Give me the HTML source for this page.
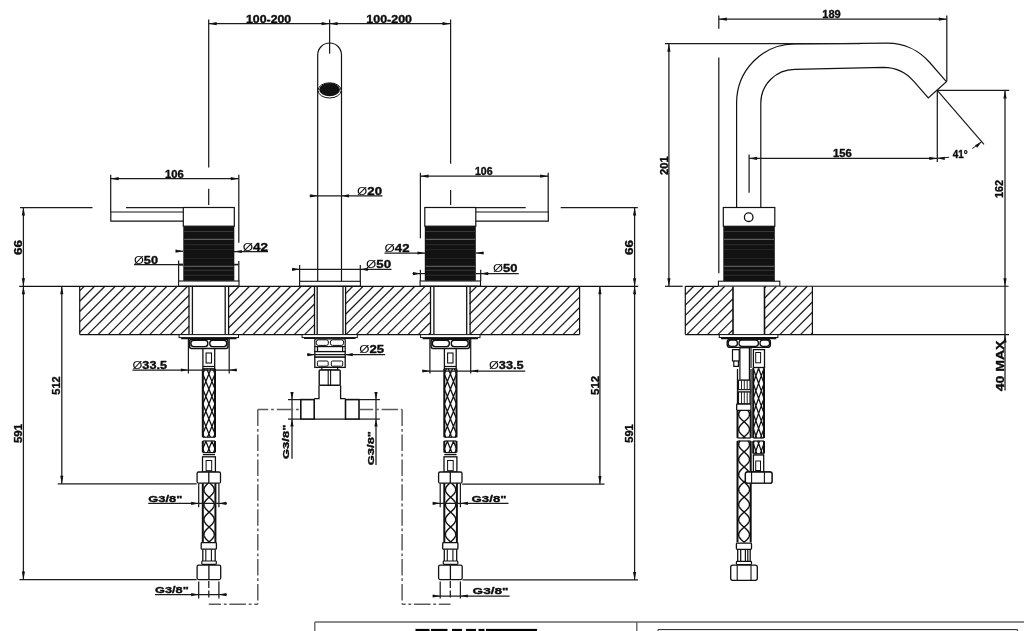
<!DOCTYPE html>
<html><head><meta charset="utf-8"><title>Technical drawing</title>
<style>
html,body{margin:0;padding:0;background:#fff;}
body{width:1024px;height:631px;overflow:hidden;}
svg{display:block;filter:grayscale(100%);}
text{font-family:"Liberation Sans",sans-serif;fill:#0c0c0c;stroke:#0c0c0c;stroke-width:0.35px;stroke-linejoin:round;}
</style></head><body>
<svg width="1024" height="631" viewBox="0 0 1024 631">
<rect x="0" y="0" width="1024" height="631" fill="#fff"/>
<line x1="84.30" y1="286.30" x2="79.70" y2="290.90" stroke="#1c1c1c" stroke-width="1.25" />
<line x1="94.63" y1="286.30" x2="79.70" y2="301.23" stroke="#1c1c1c" stroke-width="1.25" />
<line x1="104.96" y1="286.30" x2="79.70" y2="311.56" stroke="#1c1c1c" stroke-width="1.25" />
<line x1="115.29" y1="286.30" x2="79.70" y2="321.89" stroke="#1c1c1c" stroke-width="1.25" />
<line x1="125.62" y1="286.30" x2="79.70" y2="332.22" stroke="#1c1c1c" stroke-width="1.25" />
<line x1="135.95" y1="286.30" x2="87.65" y2="334.60" stroke="#1c1c1c" stroke-width="1.25" />
<line x1="146.28" y1="286.30" x2="97.98" y2="334.60" stroke="#1c1c1c" stroke-width="1.25" />
<line x1="156.61" y1="286.30" x2="108.31" y2="334.60" stroke="#1c1c1c" stroke-width="1.25" />
<line x1="166.94" y1="286.30" x2="118.64" y2="334.60" stroke="#1c1c1c" stroke-width="1.25" />
<line x1="177.27" y1="286.30" x2="128.97" y2="334.60" stroke="#1c1c1c" stroke-width="1.25" />
<line x1="187.60" y1="286.30" x2="139.30" y2="334.60" stroke="#1c1c1c" stroke-width="1.25" />
<line x1="149.63" y1="334.60" x2="189.00" y2="295.23" stroke="#1c1c1c" stroke-width="1.25" />
<line x1="159.96" y1="334.60" x2="189.00" y2="305.56" stroke="#1c1c1c" stroke-width="1.25" />
<line x1="170.29" y1="334.60" x2="189.00" y2="315.89" stroke="#1c1c1c" stroke-width="1.25" />
<line x1="180.62" y1="334.60" x2="189.00" y2="326.22" stroke="#1c1c1c" stroke-width="1.25" />
<line x1="228.92" y1="286.30" x2="228.50" y2="286.72" stroke="#1c1c1c" stroke-width="1.25" />
<line x1="239.25" y1="286.30" x2="228.50" y2="297.05" stroke="#1c1c1c" stroke-width="1.25" />
<line x1="249.58" y1="286.30" x2="228.50" y2="307.38" stroke="#1c1c1c" stroke-width="1.25" />
<line x1="259.91" y1="286.30" x2="228.50" y2="317.71" stroke="#1c1c1c" stroke-width="1.25" />
<line x1="270.24" y1="286.30" x2="228.50" y2="328.04" stroke="#1c1c1c" stroke-width="1.25" />
<line x1="280.57" y1="286.30" x2="232.27" y2="334.60" stroke="#1c1c1c" stroke-width="1.25" />
<line x1="290.90" y1="286.30" x2="242.60" y2="334.60" stroke="#1c1c1c" stroke-width="1.25" />
<line x1="301.23" y1="286.30" x2="252.93" y2="334.60" stroke="#1c1c1c" stroke-width="1.25" />
<line x1="311.56" y1="286.30" x2="263.26" y2="334.60" stroke="#1c1c1c" stroke-width="1.25" />
<line x1="273.59" y1="334.60" x2="314.50" y2="293.69" stroke="#1c1c1c" stroke-width="1.25" />
<line x1="283.92" y1="334.60" x2="314.50" y2="304.02" stroke="#1c1c1c" stroke-width="1.25" />
<line x1="294.25" y1="334.60" x2="314.50" y2="314.35" stroke="#1c1c1c" stroke-width="1.25" />
<line x1="304.58" y1="334.60" x2="314.50" y2="324.68" stroke="#1c1c1c" stroke-width="1.25" />
<line x1="352.88" y1="286.30" x2="345.60" y2="293.58" stroke="#1c1c1c" stroke-width="1.25" />
<line x1="363.21" y1="286.30" x2="345.60" y2="303.91" stroke="#1c1c1c" stroke-width="1.25" />
<line x1="373.54" y1="286.30" x2="345.60" y2="314.24" stroke="#1c1c1c" stroke-width="1.25" />
<line x1="383.87" y1="286.30" x2="345.60" y2="324.57" stroke="#1c1c1c" stroke-width="1.25" />
<line x1="394.20" y1="286.30" x2="345.90" y2="334.60" stroke="#1c1c1c" stroke-width="1.25" />
<line x1="404.53" y1="286.30" x2="356.23" y2="334.60" stroke="#1c1c1c" stroke-width="1.25" />
<line x1="414.86" y1="286.30" x2="366.56" y2="334.60" stroke="#1c1c1c" stroke-width="1.25" />
<line x1="425.19" y1="286.30" x2="376.89" y2="334.60" stroke="#1c1c1c" stroke-width="1.25" />
<line x1="387.22" y1="334.60" x2="430.00" y2="291.82" stroke="#1c1c1c" stroke-width="1.25" />
<line x1="397.55" y1="334.60" x2="430.00" y2="302.15" stroke="#1c1c1c" stroke-width="1.25" />
<line x1="407.88" y1="334.60" x2="430.00" y2="312.48" stroke="#1c1c1c" stroke-width="1.25" />
<line x1="418.21" y1="334.60" x2="430.00" y2="322.81" stroke="#1c1c1c" stroke-width="1.25" />
<line x1="428.54" y1="334.60" x2="430.00" y2="333.14" stroke="#1c1c1c" stroke-width="1.25" />
<line x1="476.84" y1="286.30" x2="469.50" y2="293.64" stroke="#1c1c1c" stroke-width="1.25" />
<line x1="487.17" y1="286.30" x2="469.50" y2="303.97" stroke="#1c1c1c" stroke-width="1.25" />
<line x1="497.50" y1="286.30" x2="469.50" y2="314.30" stroke="#1c1c1c" stroke-width="1.25" />
<line x1="507.83" y1="286.30" x2="469.50" y2="324.63" stroke="#1c1c1c" stroke-width="1.25" />
<line x1="518.16" y1="286.30" x2="469.86" y2="334.60" stroke="#1c1c1c" stroke-width="1.25" />
<line x1="528.49" y1="286.30" x2="480.19" y2="334.60" stroke="#1c1c1c" stroke-width="1.25" />
<line x1="538.82" y1="286.30" x2="490.52" y2="334.60" stroke="#1c1c1c" stroke-width="1.25" />
<line x1="549.15" y1="286.30" x2="500.85" y2="334.60" stroke="#1c1c1c" stroke-width="1.25" />
<line x1="559.48" y1="286.30" x2="511.18" y2="334.60" stroke="#1c1c1c" stroke-width="1.25" />
<line x1="569.81" y1="286.30" x2="521.51" y2="334.60" stroke="#1c1c1c" stroke-width="1.25" />
<line x1="531.84" y1="334.60" x2="579.60" y2="286.84" stroke="#1c1c1c" stroke-width="1.25" />
<line x1="542.17" y1="334.60" x2="579.60" y2="297.17" stroke="#1c1c1c" stroke-width="1.25" />
<line x1="552.50" y1="334.60" x2="579.60" y2="307.50" stroke="#1c1c1c" stroke-width="1.25" />
<line x1="562.83" y1="334.60" x2="579.60" y2="317.83" stroke="#1c1c1c" stroke-width="1.25" />
<line x1="573.16" y1="334.60" x2="579.60" y2="328.16" stroke="#1c1c1c" stroke-width="1.25" />
<line x1="79.70" y1="286.30" x2="79.70" y2="334.60" stroke="#111" stroke-width="1.2" />
<line x1="579.60" y1="286.30" x2="579.60" y2="334.60" stroke="#111" stroke-width="1.2" />
<line x1="79.70" y1="334.60" x2="189.00" y2="334.60" stroke="#111" stroke-width="1.2" />
<line x1="228.50" y1="334.60" x2="314.50" y2="334.60" stroke="#111" stroke-width="1.2" />
<line x1="345.60" y1="334.60" x2="430.00" y2="334.60" stroke="#111" stroke-width="1.2" />
<line x1="469.50" y1="334.60" x2="579.60" y2="334.60" stroke="#111" stroke-width="1.2" />
<line x1="19.30" y1="286.30" x2="638.20" y2="286.30" stroke="#111" stroke-width="1.2" />
<rect x="183.30" y="207.50" width="51.00" height="18.70" rx="0" fill="#fff" stroke="#111" stroke-width="1.2"/>
<rect x="183.30" y="226.2" width="51.00" height="54.6" fill="#121212"/>
<line x1="184.10" y1="231.50" x2="233.50" y2="231.50" stroke="#484848" stroke-width="0.7" />
<line x1="184.10" y1="239.30" x2="233.50" y2="239.30" stroke="#9a9a9a" stroke-width="0.7" />
<line x1="184.10" y1="244.70" x2="233.50" y2="244.70" stroke="#3a3a3a" stroke-width="0.7" />
<line x1="184.10" y1="249.60" x2="233.50" y2="249.60" stroke="#303030" stroke-width="0.7" />
<line x1="184.10" y1="258.50" x2="233.50" y2="258.50" stroke="#2c2c2c" stroke-width="0.7" />
<line x1="184.10" y1="266.30" x2="233.50" y2="266.30" stroke="#909090" stroke-width="0.7" />
<line x1="184.10" y1="270.30" x2="233.50" y2="270.30" stroke="#484848" stroke-width="0.7" />
<line x1="184.10" y1="275.20" x2="233.50" y2="275.20" stroke="#3c3c3c" stroke-width="0.7" />
<rect x="178.60" y="281.00" width="60.40" height="5.00" rx="0" fill="#fff" stroke="#111" stroke-width="1.1"/>
<path d="M183.30,212 L110.80,212 L110.80,221.2 L183.30,221.2" fill="none" stroke="#111" stroke-width="1.2" />
<line x1="189.00" y1="286.30" x2="189.00" y2="334.60" stroke="#111" stroke-width="1.3" />
<line x1="228.60" y1="286.30" x2="228.60" y2="334.60" stroke="#111" stroke-width="1.3" />
<line x1="192.40" y1="286.30" x2="192.40" y2="334.60" stroke="#111" stroke-width="1.3" />
<line x1="225.20" y1="286.30" x2="225.20" y2="334.60" stroke="#111" stroke-width="1.3" />
<rect x="179.10" y="334.60" width="59.40" height="3.00" rx="0" fill="#fff" stroke="#111" stroke-width="1.0"/>
<line x1="181.10" y1="338.60" x2="236.50" y2="338.60" stroke="#111" stroke-width="1.4" />
<rect x="189.60" y="339.20" width="38.40" height="9.20" rx="2" fill="#fff" stroke="#111" stroke-width="1.5"/>
<rect x="190.90" y="340.30" width="16.90" height="6.30" rx="2.8" fill="#fff" stroke="#111" stroke-width="1.4"/>
<rect x="209.80" y="340.30" width="16.90" height="6.30" rx="2.8" fill="#fff" stroke="#111" stroke-width="1.4"/>
<rect x="202.90" y="348.60" width="11.80" height="20.20" rx="0" fill="#fff" stroke="#111" stroke-width="1.3"/>
<rect x="206.10" y="353.00" width="5.40" height="10.00" rx="0" fill="none" stroke="#111" stroke-width="1.1"/>
<line x1="202.90" y1="366.50" x2="214.70" y2="366.50" stroke="#111" stroke-width="1.25" />
<line x1="202.80" y1="368.80" x2="202.80" y2="437.20" stroke="#111" stroke-width="2.0" />
<line x1="215.00" y1="368.80" x2="215.00" y2="437.20" stroke="#111" stroke-width="2.0" />
<path d="M212.88,368.80 L215.00,374.00 M204.92,368.80 L202.80,374.00 M206.78,368.80 L215.00,388.95 M211.02,368.80 L202.80,388.95 M202.80,374.00 L215.00,403.90 M215.00,374.00 L202.80,403.90 M202.80,388.95 L215.00,418.85 M215.00,388.95 L202.80,418.85 M202.80,403.90 L215.00,433.80 M215.00,403.90 L202.80,433.80 M202.80,418.85 L210.29,437.20 M215.00,418.85 L207.51,437.20 M202.80,433.80 L204.19,437.20 M215.00,433.80 L213.61,437.20 " fill="none" stroke="#111" stroke-width="1.3" />
<line x1="202.80" y1="437.20" x2="215.00" y2="437.20" stroke="#111" stroke-width="1.2" />
<line x1="202.80" y1="441.00" x2="215.00" y2="441.00" stroke="#111" stroke-width="1.2" />
<line x1="202.80" y1="441.00" x2="202.80" y2="452.40" stroke="#111" stroke-width="2.0" />
<line x1="215.00" y1="441.00" x2="215.00" y2="452.40" stroke="#111" stroke-width="2.0" />
<path d="M211.84,441.00 L215.00,448.75 M205.96,441.00 L202.80,448.75 M205.74,441.00 L210.39,452.40 M212.06,441.00 L207.41,452.40 M202.80,448.75 L204.29,452.40 M215.00,448.75 L213.51,452.40 " fill="none" stroke="#111" stroke-width="1.3" />
<line x1="202.80" y1="452.60" x2="215.00" y2="452.60" stroke="#111" stroke-width="1.2" />
<line x1="202.80" y1="454.60" x2="215.00" y2="454.60" stroke="#111" stroke-width="1.25" />
<rect x="202.50" y="456.80" width="12.90" height="15.20" rx="0" fill="#fff" stroke="#111" stroke-width="1.3"/>
<rect x="206.10" y="460.50" width="5.60" height="10.20" rx="0" fill="none" stroke="#111" stroke-width="1.0"/>
<rect x="197.10" y="472.00" width="23.40" height="11.20" rx="1.5" fill="#fff" stroke="#111" stroke-width="1.3"/>
<line x1="208.80" y1="472.00" x2="208.80" y2="483.20" stroke="#111" stroke-width="1.3" />
<line x1="202.80" y1="483.20" x2="202.80" y2="542.40" stroke="#111" stroke-width="2.0" />
<line x1="215.40" y1="483.20" x2="215.40" y2="542.40" stroke="#111" stroke-width="2.0" />
<path d="M208.13,483.20 L207.60,483.70 L207.09,484.20 L206.60,484.70 L206.13,485.20 L205.71,485.70 L205.31,486.20 L204.97,486.70 L204.66,487.20 L204.41,487.70 L204.21,488.20 L204.06,488.70 L203.97,489.20 L203.93,489.70 L203.96,490.20 L204.04,490.70 L204.17,491.20 L204.36,491.70 L204.61,492.20 L204.90,492.70 L205.24,493.20 L205.62,493.70 L206.05,494.20 L206.50,494.70 L206.99,495.20 L207.49,495.70 L208.02,496.20 L208.56,496.70 L209.10,497.20 L209.64,497.70 L210.18,498.20 L210.71,498.70 L211.21,499.20 L211.70,499.70 L212.15,500.20 L212.58,500.70 L212.96,501.20 L213.30,501.70 L213.59,502.20 L213.84,502.70 L214.03,503.20 L214.16,503.70 L214.24,504.20 L214.27,504.70 L214.23,505.20 L214.14,505.70 L213.99,506.20 L213.79,506.70 L213.54,507.20 L213.23,507.70 L212.89,508.20 L212.49,508.70 L212.07,509.20 L211.60,509.70 L211.11,510.20 L210.60,510.70 L210.07,511.20 L209.54,511.70 L208.99,512.20 L208.45,512.70 L207.91,513.20 L207.39,513.70 L206.89,514.20 L206.41,514.70 L205.96,515.20 L205.54,515.70 L205.17,516.20 L204.84,516.70 L204.56,517.20 L204.32,517.70 L204.14,518.20 L204.02,518.70 L203.95,519.20 L203.94,519.70 L203.98,520.20 L204.09,520.70 L204.24,521.20 L204.46,521.70 L204.72,522.20 L205.03,522.70 L205.39,523.20 L205.79,523.70 L206.22,524.20 L206.69,524.70 L207.19,525.20 L207.70,525.70 L208.23,526.20 L208.77,526.70 L209.32,527.20 L209.86,527.70 L210.39,528.20 L210.91,528.70 L211.41,529.20 L211.88,529.70 L212.33,530.20 L212.73,530.70 L213.10,531.20 L213.42,531.70 L213.70,532.20 L213.92,532.70 L214.09,533.20 L214.20,533.70 L214.26,534.20 L214.26,534.70 L214.20,535.20 L214.09,535.70 L213.92,536.20 L213.70,536.70 L213.42,537.20 L213.10,537.70 L212.73,538.20 L212.33,538.70 L211.88,539.20 L211.41,539.70 L210.91,540.20 L210.39,540.70 L209.86,541.20 L209.32,541.70 L208.77,542.20 L208.56,542.40 " fill="none" stroke="#111" stroke-width="1.45" stroke-linejoin="round"/>
<path d="M210.07,483.20 L210.60,483.70 L211.11,484.20 L211.60,484.70 L212.07,485.20 L212.49,485.70 L212.89,486.20 L213.23,486.70 L213.54,487.20 L213.79,487.70 L213.99,488.20 L214.14,488.70 L214.23,489.20 L214.27,489.70 L214.24,490.20 L214.16,490.70 L214.03,491.20 L213.84,491.70 L213.59,492.20 L213.30,492.70 L212.96,493.20 L212.58,493.70 L212.15,494.20 L211.70,494.70 L211.21,495.20 L210.71,495.70 L210.18,496.20 L209.64,496.70 L209.10,497.20 L208.56,497.70 L208.02,498.20 L207.49,498.70 L206.99,499.20 L206.50,499.70 L206.05,500.20 L205.62,500.70 L205.24,501.20 L204.90,501.70 L204.61,502.20 L204.36,502.70 L204.17,503.20 L204.04,503.70 L203.96,504.20 L203.93,504.70 L203.97,505.20 L204.06,505.70 L204.21,506.20 L204.41,506.70 L204.66,507.20 L204.97,507.70 L205.31,508.20 L205.71,508.70 L206.13,509.20 L206.60,509.70 L207.09,510.20 L207.60,510.70 L208.13,511.20 L208.66,511.70 L209.21,512.20 L209.75,512.70 L210.29,513.20 L210.81,513.70 L211.31,514.20 L211.79,514.70 L212.24,515.20 L212.66,515.70 L213.03,516.20 L213.36,516.70 L213.64,517.20 L213.88,517.70 L214.06,518.20 L214.18,518.70 L214.25,519.20 L214.26,519.70 L214.22,520.20 L214.11,520.70 L213.96,521.20 L213.74,521.70 L213.48,522.20 L213.17,522.70 L212.81,523.20 L212.41,523.70 L211.98,524.20 L211.51,524.70 L211.01,525.20 L210.50,525.70 L209.97,526.20 L209.43,526.70 L208.88,527.20 L208.34,527.70 L207.81,528.20 L207.29,528.70 L206.79,529.20 L206.32,529.70 L205.87,530.20 L205.47,530.70 L205.10,531.20 L204.78,531.70 L204.50,532.20 L204.28,532.70 L204.11,533.20 L204.00,533.70 L203.94,534.20 L203.94,534.70 L204.00,535.20 L204.11,535.70 L204.28,536.20 L204.50,536.70 L204.78,537.20 L205.10,537.70 L205.47,538.20 L205.87,538.70 L206.32,539.20 L206.79,539.70 L207.29,540.20 L207.81,540.70 L208.34,541.20 L208.88,541.70 L209.43,542.20 L209.64,542.40 " fill="none" stroke="#111" stroke-width="1.45" stroke-linejoin="round"/>
<rect x="201.20" y="542.70" width="15.20" height="6.50" rx="0.8" fill="#fff" stroke="#111" stroke-width="1.3"/>
<line x1="202.80" y1="549.20" x2="202.80" y2="561.00" stroke="#111" stroke-width="1.3" />
<line x1="215.20" y1="549.20" x2="215.20" y2="561.00" stroke="#111" stroke-width="1.3" />
<line x1="205.80" y1="549.20" x2="205.80" y2="561.00" stroke="#111" stroke-width="1.1" />
<line x1="211.40" y1="549.20" x2="211.40" y2="561.00" stroke="#111" stroke-width="1.1" />
<rect x="201.80" y="561.00" width="14.50" height="3.30" rx="0.8" fill="#fff" stroke="#111" stroke-width="1.2"/>
<rect x="197.10" y="565.20" width="23.60" height="14.40" rx="1.5" fill="#fff" stroke="#111" stroke-width="1.3"/>
<line x1="208.90" y1="565.20" x2="208.90" y2="579.60" stroke="#111" stroke-width="1.3" />
<line x1="198.70" y1="483.50" x2="198.70" y2="507.20" stroke="#1c1c1c" stroke-width="1.25" />
<line x1="198.70" y1="581.50" x2="198.70" y2="598.50" stroke="#1c1c1c" stroke-width="1.25" />
<line x1="218.90" y1="483.50" x2="218.90" y2="507.20" stroke="#1c1c1c" stroke-width="1.25" />
<line x1="218.90" y1="581.50" x2="218.90" y2="598.50" stroke="#1c1c1c" stroke-width="1.25" />
<line x1="208.80" y1="581.00" x2="208.80" y2="600.00" stroke="#1c1c1c" stroke-width="1.25" stroke-dasharray="7 2.5"/>
<line x1="188.40" y1="339.00" x2="188.40" y2="373.50" stroke="#1c1c1c" stroke-width="1.25" />
<line x1="229.20" y1="339.00" x2="229.20" y2="373.50" stroke="#1c1c1c" stroke-width="1.25" />
<rect x="424.80" y="207.50" width="51.00" height="18.70" rx="0" fill="#fff" stroke="#111" stroke-width="1.2"/>
<rect x="424.80" y="226.2" width="51.00" height="54.6" fill="#121212"/>
<line x1="425.60" y1="231.50" x2="475.00" y2="231.50" stroke="#484848" stroke-width="0.7" />
<line x1="425.60" y1="239.30" x2="475.00" y2="239.30" stroke="#9a9a9a" stroke-width="0.7" />
<line x1="425.60" y1="244.70" x2="475.00" y2="244.70" stroke="#3a3a3a" stroke-width="0.7" />
<line x1="425.60" y1="249.60" x2="475.00" y2="249.60" stroke="#303030" stroke-width="0.7" />
<line x1="425.60" y1="258.50" x2="475.00" y2="258.50" stroke="#2c2c2c" stroke-width="0.7" />
<line x1="425.60" y1="266.30" x2="475.00" y2="266.30" stroke="#909090" stroke-width="0.7" />
<line x1="425.60" y1="270.30" x2="475.00" y2="270.30" stroke="#484848" stroke-width="0.7" />
<line x1="425.60" y1="275.20" x2="475.00" y2="275.20" stroke="#3c3c3c" stroke-width="0.7" />
<rect x="420.10" y="281.00" width="60.40" height="5.00" rx="0" fill="#fff" stroke="#111" stroke-width="1.1"/>
<path d="M475.80,212 L548.30,212 L548.30,221.2 L475.80,221.2" fill="none" stroke="#111" stroke-width="1.2" />
<line x1="430.50" y1="286.30" x2="430.50" y2="334.60" stroke="#111" stroke-width="1.3" />
<line x1="470.10" y1="286.30" x2="470.10" y2="334.60" stroke="#111" stroke-width="1.3" />
<line x1="433.90" y1="286.30" x2="433.90" y2="334.60" stroke="#111" stroke-width="1.3" />
<line x1="466.70" y1="286.30" x2="466.70" y2="334.60" stroke="#111" stroke-width="1.3" />
<rect x="420.60" y="334.60" width="59.40" height="3.00" rx="0" fill="#fff" stroke="#111" stroke-width="1.0"/>
<line x1="422.60" y1="338.60" x2="478.00" y2="338.60" stroke="#111" stroke-width="1.4" />
<rect x="431.10" y="339.20" width="38.40" height="9.20" rx="2" fill="#fff" stroke="#111" stroke-width="1.5"/>
<rect x="432.40" y="340.30" width="16.90" height="6.30" rx="2.8" fill="#fff" stroke="#111" stroke-width="1.4"/>
<rect x="451.30" y="340.30" width="16.90" height="6.30" rx="2.8" fill="#fff" stroke="#111" stroke-width="1.4"/>
<rect x="444.40" y="348.60" width="11.80" height="20.20" rx="0" fill="#fff" stroke="#111" stroke-width="1.3"/>
<rect x="447.60" y="353.00" width="5.40" height="10.00" rx="0" fill="none" stroke="#111" stroke-width="1.1"/>
<line x1="444.40" y1="366.50" x2="456.20" y2="366.50" stroke="#111" stroke-width="1.25" />
<line x1="444.30" y1="368.80" x2="444.30" y2="437.20" stroke="#111" stroke-width="2.0" />
<line x1="456.50" y1="368.80" x2="456.50" y2="437.20" stroke="#111" stroke-width="2.0" />
<path d="M454.38,368.80 L456.50,374.00 M446.42,368.80 L444.30,374.00 M448.28,368.80 L456.50,388.95 M452.52,368.80 L444.30,388.95 M444.30,374.00 L456.50,403.90 M456.50,374.00 L444.30,403.90 M444.30,388.95 L456.50,418.85 M456.50,388.95 L444.30,418.85 M444.30,403.90 L456.50,433.80 M456.50,403.90 L444.30,433.80 M444.30,418.85 L451.79,437.20 M456.50,418.85 L449.01,437.20 M444.30,433.80 L445.69,437.20 M456.50,433.80 L455.11,437.20 " fill="none" stroke="#111" stroke-width="1.3" />
<line x1="444.30" y1="437.20" x2="456.50" y2="437.20" stroke="#111" stroke-width="1.2" />
<line x1="444.30" y1="441.00" x2="456.50" y2="441.00" stroke="#111" stroke-width="1.2" />
<line x1="444.30" y1="441.00" x2="444.30" y2="452.40" stroke="#111" stroke-width="2.0" />
<line x1="456.50" y1="441.00" x2="456.50" y2="452.40" stroke="#111" stroke-width="2.0" />
<path d="M453.34,441.00 L456.50,448.75 M447.46,441.00 L444.30,448.75 M447.24,441.00 L451.89,452.40 M453.56,441.00 L448.91,452.40 M444.30,448.75 L445.79,452.40 M456.50,448.75 L455.01,452.40 " fill="none" stroke="#111" stroke-width="1.3" />
<line x1="444.30" y1="452.60" x2="456.50" y2="452.60" stroke="#111" stroke-width="1.2" />
<line x1="444.30" y1="454.60" x2="456.50" y2="454.60" stroke="#111" stroke-width="1.25" />
<rect x="444.00" y="456.80" width="12.90" height="15.20" rx="0" fill="#fff" stroke="#111" stroke-width="1.3"/>
<rect x="447.60" y="460.50" width="5.60" height="10.20" rx="0" fill="none" stroke="#111" stroke-width="1.0"/>
<rect x="438.60" y="472.00" width="23.40" height="11.20" rx="1.5" fill="#fff" stroke="#111" stroke-width="1.3"/>
<line x1="450.30" y1="472.00" x2="450.30" y2="483.20" stroke="#111" stroke-width="1.3" />
<line x1="444.30" y1="483.20" x2="444.30" y2="542.40" stroke="#111" stroke-width="2.0" />
<line x1="456.90" y1="483.20" x2="456.90" y2="542.40" stroke="#111" stroke-width="2.0" />
<path d="M449.63,483.20 L449.10,483.70 L448.59,484.20 L448.10,484.70 L447.63,485.20 L447.21,485.70 L446.81,486.20 L446.47,486.70 L446.16,487.20 L445.91,487.70 L445.71,488.20 L445.56,488.70 L445.47,489.20 L445.43,489.70 L445.46,490.20 L445.54,490.70 L445.67,491.20 L445.86,491.70 L446.11,492.20 L446.40,492.70 L446.74,493.20 L447.12,493.70 L447.55,494.20 L448.00,494.70 L448.49,495.20 L448.99,495.70 L449.52,496.20 L450.06,496.70 L450.60,497.20 L451.14,497.70 L451.68,498.20 L452.21,498.70 L452.71,499.20 L453.20,499.70 L453.65,500.20 L454.08,500.70 L454.46,501.20 L454.80,501.70 L455.09,502.20 L455.34,502.70 L455.53,503.20 L455.66,503.70 L455.74,504.20 L455.77,504.70 L455.73,505.20 L455.64,505.70 L455.49,506.20 L455.29,506.70 L455.04,507.20 L454.73,507.70 L454.39,508.20 L453.99,508.70 L453.57,509.20 L453.10,509.70 L452.61,510.20 L452.10,510.70 L451.57,511.20 L451.04,511.70 L450.49,512.20 L449.95,512.70 L449.41,513.20 L448.89,513.70 L448.39,514.20 L447.91,514.70 L447.46,515.20 L447.04,515.70 L446.67,516.20 L446.34,516.70 L446.06,517.20 L445.82,517.70 L445.64,518.20 L445.52,518.70 L445.45,519.20 L445.44,519.70 L445.48,520.20 L445.59,520.70 L445.74,521.20 L445.96,521.70 L446.22,522.20 L446.53,522.70 L446.89,523.20 L447.29,523.70 L447.72,524.20 L448.19,524.70 L448.69,525.20 L449.20,525.70 L449.73,526.20 L450.27,526.70 L450.82,527.20 L451.36,527.70 L451.89,528.20 L452.41,528.70 L452.91,529.20 L453.38,529.70 L453.83,530.20 L454.23,530.70 L454.60,531.20 L454.92,531.70 L455.20,532.20 L455.42,532.70 L455.59,533.20 L455.70,533.70 L455.76,534.20 L455.76,534.70 L455.70,535.20 L455.59,535.70 L455.42,536.20 L455.20,536.70 L454.92,537.20 L454.60,537.70 L454.23,538.20 L453.83,538.70 L453.38,539.20 L452.91,539.70 L452.41,540.20 L451.89,540.70 L451.36,541.20 L450.82,541.70 L450.27,542.20 L450.06,542.40 " fill="none" stroke="#111" stroke-width="1.45" stroke-linejoin="round"/>
<path d="M451.57,483.20 L452.10,483.70 L452.61,484.20 L453.10,484.70 L453.57,485.20 L453.99,485.70 L454.39,486.20 L454.73,486.70 L455.04,487.20 L455.29,487.70 L455.49,488.20 L455.64,488.70 L455.73,489.20 L455.77,489.70 L455.74,490.20 L455.66,490.70 L455.53,491.20 L455.34,491.70 L455.09,492.20 L454.80,492.70 L454.46,493.20 L454.08,493.70 L453.65,494.20 L453.20,494.70 L452.71,495.20 L452.21,495.70 L451.68,496.20 L451.14,496.70 L450.60,497.20 L450.06,497.70 L449.52,498.20 L448.99,498.70 L448.49,499.20 L448.00,499.70 L447.55,500.20 L447.12,500.70 L446.74,501.20 L446.40,501.70 L446.11,502.20 L445.86,502.70 L445.67,503.20 L445.54,503.70 L445.46,504.20 L445.43,504.70 L445.47,505.20 L445.56,505.70 L445.71,506.20 L445.91,506.70 L446.16,507.20 L446.47,507.70 L446.81,508.20 L447.21,508.70 L447.63,509.20 L448.10,509.70 L448.59,510.20 L449.10,510.70 L449.63,511.20 L450.16,511.70 L450.71,512.20 L451.25,512.70 L451.79,513.20 L452.31,513.70 L452.81,514.20 L453.29,514.70 L453.74,515.20 L454.16,515.70 L454.53,516.20 L454.86,516.70 L455.14,517.20 L455.38,517.70 L455.56,518.20 L455.68,518.70 L455.75,519.20 L455.76,519.70 L455.72,520.20 L455.61,520.70 L455.46,521.20 L455.24,521.70 L454.98,522.20 L454.67,522.70 L454.31,523.20 L453.91,523.70 L453.48,524.20 L453.01,524.70 L452.51,525.20 L452.00,525.70 L451.47,526.20 L450.93,526.70 L450.38,527.20 L449.84,527.70 L449.31,528.20 L448.79,528.70 L448.29,529.20 L447.82,529.70 L447.37,530.20 L446.97,530.70 L446.60,531.20 L446.28,531.70 L446.00,532.20 L445.78,532.70 L445.61,533.20 L445.50,533.70 L445.44,534.20 L445.44,534.70 L445.50,535.20 L445.61,535.70 L445.78,536.20 L446.00,536.70 L446.28,537.20 L446.60,537.70 L446.97,538.20 L447.37,538.70 L447.82,539.20 L448.29,539.70 L448.79,540.20 L449.31,540.70 L449.84,541.20 L450.38,541.70 L450.93,542.20 L451.14,542.40 " fill="none" stroke="#111" stroke-width="1.45" stroke-linejoin="round"/>
<rect x="442.70" y="542.70" width="15.20" height="6.50" rx="0.8" fill="#fff" stroke="#111" stroke-width="1.3"/>
<line x1="444.30" y1="549.20" x2="444.30" y2="561.00" stroke="#111" stroke-width="1.3" />
<line x1="456.70" y1="549.20" x2="456.70" y2="561.00" stroke="#111" stroke-width="1.3" />
<line x1="447.30" y1="549.20" x2="447.30" y2="561.00" stroke="#111" stroke-width="1.1" />
<line x1="452.90" y1="549.20" x2="452.90" y2="561.00" stroke="#111" stroke-width="1.1" />
<rect x="443.30" y="561.00" width="14.50" height="3.30" rx="0.8" fill="#fff" stroke="#111" stroke-width="1.2"/>
<rect x="438.60" y="565.20" width="23.60" height="14.40" rx="1.5" fill="#fff" stroke="#111" stroke-width="1.3"/>
<line x1="450.40" y1="565.20" x2="450.40" y2="579.60" stroke="#111" stroke-width="1.3" />
<line x1="440.20" y1="483.50" x2="440.20" y2="507.20" stroke="#1c1c1c" stroke-width="1.25" />
<line x1="440.20" y1="581.50" x2="440.20" y2="598.50" stroke="#1c1c1c" stroke-width="1.25" />
<line x1="460.40" y1="483.50" x2="460.40" y2="507.20" stroke="#1c1c1c" stroke-width="1.25" />
<line x1="460.40" y1="581.50" x2="460.40" y2="598.50" stroke="#1c1c1c" stroke-width="1.25" />
<line x1="450.30" y1="581.00" x2="450.30" y2="600.00" stroke="#1c1c1c" stroke-width="1.25" stroke-dasharray="7 2.5"/>
<line x1="429.90" y1="339.00" x2="429.90" y2="373.50" stroke="#1c1c1c" stroke-width="1.25" />
<line x1="470.70" y1="339.00" x2="470.70" y2="373.50" stroke="#1c1c1c" stroke-width="1.25" />
<path d="M317.7,281 L317.7,55 A11.9,12 0 0 1 341.5,55 L341.5,281" fill="none" stroke="#111" stroke-width="1.2" />
<ellipse cx="329.6" cy="90.4" rx="11.6" ry="7.6" fill="#fff" stroke="#111" stroke-width="1"/>
<ellipse cx="329.6" cy="89.6" rx="10.4" ry="6.6" fill="#111"/>
<rect x="299.60" y="281.30" width="60.80" height="4.70" rx="0" fill="#fff" stroke="#111" stroke-width="1.1"/>
<line x1="314.50" y1="286.30" x2="314.50" y2="334.60" stroke="#111" stroke-width="1.3" />
<line x1="345.60" y1="286.30" x2="345.60" y2="334.60" stroke="#111" stroke-width="1.3" />
<line x1="317.20" y1="286.30" x2="317.20" y2="334.60" stroke="#111" stroke-width="1.3" />
<line x1="343.00" y1="286.30" x2="343.00" y2="334.60" stroke="#111" stroke-width="1.3" />
<rect x="302.10" y="334.60" width="55.20" height="3.00" rx="0" fill="#fff" stroke="#111" stroke-width="1.0"/>
<line x1="304.00" y1="338.40" x2="355.50" y2="338.40" stroke="#111" stroke-width="1.2" />
<rect x="314.80" y="338.80" width="30.40" height="7.80" rx="1" fill="#fff" stroke="#111" stroke-width="1.2"/>
<rect x="316.20" y="339.80" width="12.20" height="5.60" rx="2.2" fill="#fff" stroke="#111" stroke-width="1.0"/>
<rect x="330.40" y="339.80" width="13.20" height="5.60" rx="2.2" fill="#fff" stroke="#111" stroke-width="1.0"/>
<rect x="314.80" y="346.60" width="30.40" height="5.00" rx="0" fill="#fff" stroke="#111" stroke-width="1.2"/>
<line x1="317.50" y1="346.60" x2="317.50" y2="351.60" stroke="#111" stroke-width="1.25" />
<line x1="342.60" y1="346.60" x2="342.60" y2="351.60" stroke="#111" stroke-width="1.25" />
<rect x="314.80" y="351.60" width="30.40" height="5.60" rx="0" fill="#fff" stroke="#111" stroke-width="1.3"/>
<rect x="314.80" y="357.20" width="30.40" height="10.20" rx="0" fill="#fff" stroke="#111" stroke-width="1.3"/>
<rect x="317.40" y="361.00" width="10.80" height="5.20" rx="1.2" fill="#fff" stroke="#111" stroke-width="1.0"/>
<rect x="331.30" y="361.00" width="11.40" height="5.20" rx="1.2" fill="#fff" stroke="#111" stroke-width="1.0"/>
<rect x="321.80" y="367.40" width="15.80" height="2.60" rx="0" fill="#fff" stroke="#111" stroke-width="1.2"/>
<rect x="319.20" y="370.00" width="21.00" height="15.30" rx="1" fill="#fff" stroke="#111" stroke-width="1.4"/>
<line x1="328.20" y1="370.00" x2="328.20" y2="385.30" stroke="#111" stroke-width="1.1" />
<line x1="330.60" y1="370.00" x2="330.60" y2="385.30" stroke="#111" stroke-width="1.1" />
<path d="M319,385.3 L319,398.6 L314.2,398.6 M340.6,385.3 L340.6,398.6 L345.5,398.6 M314.2,419.1 L345.5,419.1" fill="none" stroke="#111" stroke-width="1.3" />
<rect x="300.80" y="399.60" width="13.40" height="19.50" rx="0" fill="#fff" stroke="#111" stroke-width="1.6"/>
<rect x="345.50" y="399.60" width="13.50" height="19.50" rx="0" fill="#fff" stroke="#111" stroke-width="1.6"/>
<line x1="288.00" y1="399.60" x2="300.80" y2="399.60" stroke="#1c1c1c" stroke-width="1.25" />
<line x1="288.00" y1="419.10" x2="300.80" y2="419.10" stroke="#1c1c1c" stroke-width="1.25" />
<line x1="359.00" y1="399.60" x2="380.00" y2="399.60" stroke="#1c1c1c" stroke-width="1.25" />
<line x1="359.00" y1="419.10" x2="380.00" y2="419.10" stroke="#1c1c1c" stroke-width="1.25" />
<line x1="292.00" y1="392.00" x2="292.00" y2="458.80" stroke="#1c1c1c" stroke-width="1.25" />
<line x1="376.00" y1="392.00" x2="376.00" y2="465.00" stroke="#1c1c1c" stroke-width="1.25" />
<polygon points="292.00,399.60 290.40,392.10 293.60,392.10" fill="#111"/>
<polygon points="292.00,419.10 293.60,426.60 290.40,426.60" fill="#111"/>
<polygon points="376.00,399.60 374.40,392.10 377.60,392.10" fill="#111"/>
<polygon points="376.00,419.10 377.60,426.60 374.40,426.60" fill="#111"/>
<text transform="translate(289.30,459.10) rotate(-90)" x="0" y="0" font-size="9.9" font-weight="bold" textLength="34.50" lengthAdjust="spacingAndGlyphs">G3/8&quot;</text>
<text transform="translate(373.60,465.20) rotate(-90)" x="0" y="0" font-size="9.9" font-weight="bold" textLength="34.20" lengthAdjust="spacingAndGlyphs">G3/8&quot;</text>
<path d="M257.8,409.6 L257.8,604.2" fill="none" stroke="#5c5c5c" stroke-width="1.5" stroke-dasharray="16.5 2.8 2.8 2.8"/>
<path d="M257.8,409.6 L300,409.6" fill="none" stroke="#5c5c5c" stroke-width="1.5" stroke-dasharray="16.5 2.8 2.8 2.8" stroke-dashoffset="6"/>
<path d="M402.1,409.6 L402.1,604.2" fill="none" stroke="#5c5c5c" stroke-width="1.5" stroke-dasharray="16.5 2.8 2.8 2.8"/>
<path d="M402.1,409.6 L360,409.6" fill="none" stroke="#5c5c5c" stroke-width="1.5" stroke-dasharray="16.5 2.8 2.8 2.8" stroke-dashoffset="-4"/>
<path d="M257.8,604.2 L208.8,604.2" fill="none" stroke="#5c5c5c" stroke-width="1.5" stroke-dasharray="16.5 2.8 2.8 2.8" stroke-dashoffset="13"/>
<path d="M402.1,604.2 L450.5,604.2" fill="none" stroke="#5c5c5c" stroke-width="1.5" stroke-dasharray="16.5 2.8 2.8 2.8" stroke-dashoffset="13"/>
<line x1="208.70" y1="23.70" x2="450.50" y2="23.70" stroke="#1c1c1c" stroke-width="1.25" />
<line x1="208.70" y1="19.50" x2="208.70" y2="167.50" stroke="#1c1c1c" stroke-width="1.25" />
<line x1="208.70" y1="188.70" x2="208.70" y2="205.00" stroke="#1c1c1c" stroke-width="1.25" />
<line x1="450.60" y1="19.50" x2="450.60" y2="163.70" stroke="#1c1c1c" stroke-width="1.25" />
<line x1="450.60" y1="190.00" x2="450.60" y2="205.00" stroke="#1c1c1c" stroke-width="1.25" />
<line x1="329.60" y1="19.50" x2="329.60" y2="53.70" stroke="#1c1c1c" stroke-width="1.25" />
<polygon points="208.70,23.70 216.70,22.10 216.70,25.30" fill="#111"/>
<polygon points="329.60,23.70 321.60,25.30 321.60,22.10" fill="#111"/>
<polygon points="329.60,23.70 337.60,22.10 337.60,25.30" fill="#111"/>
<polygon points="450.50,23.70 442.50,25.30 442.50,22.10" fill="#111"/>
<text x="246.00" y="22.50" font-size="10.3" font-weight="bold" textLength="45.20" lengthAdjust="spacingAndGlyphs">100-200</text>
<text x="366.30" y="22.50" font-size="10.3" font-weight="bold" textLength="45.70" lengthAdjust="spacingAndGlyphs">100-200</text>
<line x1="110.70" y1="178.70" x2="238.80" y2="178.70" stroke="#1c1c1c" stroke-width="1.25" />
<line x1="110.70" y1="174.80" x2="110.70" y2="212.00" stroke="#1c1c1c" stroke-width="1.25" />
<line x1="238.80" y1="174.80" x2="238.80" y2="242.80" stroke="#1c1c1c" stroke-width="1.25" />
<line x1="238.80" y1="261.00" x2="238.80" y2="281.00" stroke="#1c1c1c" stroke-width="1.25" />
<line x1="178.60" y1="260.50" x2="178.60" y2="281.00" stroke="#1c1c1c" stroke-width="1.25" />
<polygon points="110.70,178.70 118.70,177.10 118.70,180.30" fill="#111"/>
<polygon points="238.80,178.70 230.80,180.30 230.80,177.10" fill="#111"/>
<text x="165.00" y="177.80" font-size="10.3" font-weight="bold" textLength="18.70" lengthAdjust="spacingAndGlyphs">106</text>
<line x1="420.50" y1="176.20" x2="548.20" y2="176.20" stroke="#1c1c1c" stroke-width="1.25" />
<line x1="420.40" y1="172.80" x2="420.40" y2="238.30" stroke="#1c1c1c" stroke-width="1.25" />
<line x1="420.40" y1="269.80" x2="420.40" y2="281.00" stroke="#1c1c1c" stroke-width="1.25" />
<line x1="548.20" y1="172.80" x2="548.20" y2="212.00" stroke="#1c1c1c" stroke-width="1.25" />
<polygon points="420.50,176.20 428.50,174.60 428.50,177.80" fill="#111"/>
<polygon points="548.20,176.20 540.20,177.80 540.20,174.60" fill="#111"/>
<text x="475.00" y="175.30" font-size="10.3" font-weight="bold" textLength="17.60" lengthAdjust="spacingAndGlyphs">106</text>
<line x1="20.00" y1="207.50" x2="92.50" y2="207.50" stroke="#1c1c1c" stroke-width="1.25" />
<line x1="126.00" y1="207.50" x2="183.00" y2="207.50" stroke="#1c1c1c" stroke-width="1.25" />
<line x1="23.40" y1="207.50" x2="23.40" y2="579.60" stroke="#1c1c1c" stroke-width="1.25" />
<polygon points="23.40,207.50 25.00,215.50 21.80,215.50" fill="#111"/>
<polygon points="23.40,286.30 21.80,278.30 25.00,278.30" fill="#111"/>
<polygon points="23.40,286.30 25.00,294.30 21.80,294.30" fill="#111"/>
<polygon points="23.40,579.60 21.80,571.60 25.00,571.60" fill="#111"/>
<text transform="translate(22.20,255.00) rotate(-90)" x="0" y="0" font-size="10.3" font-weight="bold" textLength="15.00" lengthAdjust="spacingAndGlyphs">66</text>
<line x1="475.70" y1="207.50" x2="525.70" y2="207.50" stroke="#1c1c1c" stroke-width="1.25" />
<line x1="560.70" y1="207.50" x2="637.80" y2="207.50" stroke="#1c1c1c" stroke-width="1.25" />
<line x1="634.60" y1="207.50" x2="634.60" y2="579.90" stroke="#1c1c1c" stroke-width="1.25" />
<polygon points="634.60,207.50 636.20,215.50 633.00,215.50" fill="#111"/>
<polygon points="634.60,286.30 633.00,278.30 636.20,278.30" fill="#111"/>
<polygon points="634.60,286.30 636.20,294.30 633.00,294.30" fill="#111"/>
<polygon points="634.60,579.90 633.00,571.90 636.20,571.90" fill="#111"/>
<text transform="translate(633.00,255.00) rotate(-90)" x="0" y="0" font-size="10.3" font-weight="bold" textLength="15.00" lengthAdjust="spacingAndGlyphs">66</text>
<line x1="61.80" y1="286.30" x2="61.80" y2="483.70" stroke="#1c1c1c" stroke-width="1.25" />
<polygon points="61.80,286.30 63.40,294.30 60.20,294.30" fill="#111"/>
<polygon points="61.80,483.70 60.20,475.70 63.40,475.70" fill="#111"/>
<line x1="57.80" y1="483.80" x2="196.60" y2="483.80" stroke="#1c1c1c" stroke-width="1.25" />
<line x1="19.50" y1="579.70" x2="196.60" y2="579.70" stroke="#1c1c1c" stroke-width="1.25" />
<text transform="translate(60.20,394.70) rotate(-90)" x="0" y="0" font-size="10.3" font-weight="bold" textLength="18.30" lengthAdjust="spacingAndGlyphs">512</text>
<text transform="translate(21.90,443.10) rotate(-90)" x="0" y="0" font-size="10.3" font-weight="bold" textLength="19.30" lengthAdjust="spacingAndGlyphs">591</text>
<line x1="599.90" y1="286.30" x2="599.90" y2="484.00" stroke="#1c1c1c" stroke-width="1.25" />
<polygon points="599.90,286.30 601.50,294.30 598.30,294.30" fill="#111"/>
<polygon points="599.90,484.00 598.30,476.00 601.50,476.00" fill="#111"/>
<line x1="462.30" y1="484.10" x2="604.50" y2="484.10" stroke="#1c1c1c" stroke-width="1.25" />
<line x1="462.50" y1="579.90" x2="638.00" y2="579.90" stroke="#1c1c1c" stroke-width="1.25" />
<text transform="translate(598.80,394.90) rotate(-90)" x="0" y="0" font-size="10.3" font-weight="bold" textLength="19.10" lengthAdjust="spacingAndGlyphs">512</text>
<text transform="translate(633.00,442.80) rotate(-90)" x="0" y="0" font-size="10.3" font-weight="bold" textLength="18.60" lengthAdjust="spacingAndGlyphs">591</text>
<line x1="134.00" y1="264.60" x2="183.00" y2="264.60" stroke="#1c1c1c" stroke-width="1.25" />
<line x1="179.00" y1="264.60" x2="183.00" y2="264.60" stroke="#1c1c1c" stroke-width="2.0" />
<line x1="234.00" y1="264.60" x2="238.60" y2="264.60" stroke="#1c1c1c" stroke-width="1.6" />
<text x="134.00" y="263.50" font-size="10.3" font-weight="bold" textLength="24.00" lengthAdjust="spacingAndGlyphs"><tspan font-weight="normal" stroke-width="0">Ø</tspan>50</text>
<line x1="176.00" y1="251.20" x2="183.00" y2="251.20" stroke="#1c1c1c" stroke-width="1.25" />
<polygon points="183.00,251.20 175.50,252.80 175.50,249.60" fill="#111"/>
<line x1="234.00" y1="251.70" x2="268.00" y2="251.70" stroke="#1c1c1c" stroke-width="1.25" />
<polygon points="234.30,251.50 241.80,249.90 241.80,253.10" fill="#111"/>
<text x="242.70" y="250.50" font-size="10.3" font-weight="bold" textLength="25.30" lengthAdjust="spacingAndGlyphs"><tspan font-weight="normal" stroke-width="0">Ø</tspan>42</text>
<line x1="309.50" y1="195.80" x2="382.50" y2="195.80" stroke="#1c1c1c" stroke-width="1.25" />
<polygon points="317.70,195.80 310.20,197.40 310.20,194.20" fill="#111"/>
<polygon points="341.50,195.80 349.00,194.20 349.00,197.40" fill="#111"/>
<text x="357.00" y="194.90" font-size="10.3" font-weight="bold" textLength="25.00" lengthAdjust="spacingAndGlyphs"><tspan font-weight="normal" stroke-width="0">Ø</tspan>20</text>
<line x1="292.00" y1="269.30" x2="391.50" y2="269.30" stroke="#1c1c1c" stroke-width="1.25" />
<polygon points="299.60,269.30 292.10,270.90 292.10,267.70" fill="#111"/>
<polygon points="360.30,269.30 367.80,267.70 367.80,270.90" fill="#111"/>
<line x1="299.60" y1="265.00" x2="299.60" y2="281.00" stroke="#1c1c1c" stroke-width="1.25" />
<line x1="360.30" y1="265.00" x2="360.30" y2="281.00" stroke="#1c1c1c" stroke-width="1.25" />
<text x="366.00" y="268.10" font-size="10.3" font-weight="bold" textLength="25.00" lengthAdjust="spacingAndGlyphs"><tspan font-weight="normal" stroke-width="0">Ø</tspan>50</text>
<line x1="384.50" y1="253.00" x2="425.00" y2="253.00" stroke="#1c1c1c" stroke-width="1.25" />
<polygon points="425.00,253.00 417.50,254.60 417.50,251.40" fill="#111"/>
<line x1="476.00" y1="253.00" x2="483.70" y2="253.00" stroke="#1c1c1c" stroke-width="1.25" />
<polygon points="476.00,253.00 483.50,251.40 483.50,254.60" fill="#111"/>
<text x="384.50" y="251.70" font-size="10.3" font-weight="bold" textLength="25.00" lengthAdjust="spacingAndGlyphs"><tspan font-weight="normal" stroke-width="0">Ø</tspan>42</text>
<line x1="412.50" y1="273.60" x2="425.00" y2="273.60" stroke="#1c1c1c" stroke-width="1.25" />
<polygon points="420.50,273.60 413.00,275.20 413.00,272.00" fill="#111"/>
<line x1="476.00" y1="273.60" x2="518.70" y2="273.60" stroke="#1c1c1c" stroke-width="1.25" />
<polygon points="480.70,273.60 488.20,272.00 488.20,275.20" fill="#111"/>
<line x1="480.70" y1="269.80" x2="480.70" y2="281.00" stroke="#1c1c1c" stroke-width="1.25" />
<text x="493.00" y="272.30" font-size="10.3" font-weight="bold" textLength="24.50" lengthAdjust="spacingAndGlyphs"><tspan font-weight="normal" stroke-width="0">Ø</tspan>50</text>
<line x1="132.50" y1="370.00" x2="237.00" y2="370.00" stroke="#1c1c1c" stroke-width="1.25" />
<polygon points="188.40,370.00 180.90,371.60 180.90,368.40" fill="#111"/>
<polygon points="229.20,370.00 236.70,368.40 236.70,371.60" fill="#111"/>
<text x="132.50" y="368.70" font-size="10.3" font-weight="bold" textLength="34.50" lengthAdjust="spacingAndGlyphs"><tspan font-weight="normal" stroke-width="0">Ø</tspan>33.5</text>
<line x1="422.20" y1="371.00" x2="525.20" y2="371.00" stroke="#1c1c1c" stroke-width="1.25" />
<polygon points="429.90,371.00 422.40,372.60 422.40,369.40" fill="#111"/>
<polygon points="470.70,371.00 478.20,369.40 478.20,372.60" fill="#111"/>
<text x="489.00" y="369.30" font-size="10.3" font-weight="bold" textLength="34.60" lengthAdjust="spacingAndGlyphs"><tspan font-weight="normal" stroke-width="0">Ø</tspan>33.5</text>
<line x1="307.20" y1="354.70" x2="385.10" y2="354.70" stroke="#1c1c1c" stroke-width="1.25" />
<polygon points="314.80,354.70 307.30,356.30 307.30,353.10" fill="#111"/>
<polygon points="345.20,354.70 352.70,353.10 352.70,356.30" fill="#111"/>
<text x="359.20" y="353.40" font-size="10.3" font-weight="bold" textLength="24.90" lengthAdjust="spacingAndGlyphs"><tspan font-weight="normal" stroke-width="0">Ø</tspan>25</text>
<line x1="148.20" y1="503.40" x2="226.80" y2="503.40" stroke="#1c1c1c" stroke-width="1.25" />
<polygon points="198.70,503.40 191.20,505.00 191.20,501.80" fill="#111"/>
<polygon points="218.90,503.40 226.40,501.80 226.40,505.00" fill="#111"/>
<text x="148.20" y="501.90" font-size="9.9" font-weight="bold" textLength="34.30" lengthAdjust="spacingAndGlyphs">G3/8&quot;</text>
<line x1="155.00" y1="594.60" x2="226.80" y2="594.60" stroke="#1c1c1c" stroke-width="1.25" />
<polygon points="198.70,594.60 191.20,596.20 191.20,593.00" fill="#111"/>
<polygon points="218.90,594.60 226.40,593.00 226.40,596.20" fill="#111"/>
<text x="155.00" y="592.80" font-size="9.9" font-weight="bold" textLength="33.80" lengthAdjust="spacingAndGlyphs">G3/8&quot;</text>
<line x1="432.80" y1="503.30" x2="508.50" y2="503.30" stroke="#1c1c1c" stroke-width="1.25" />
<polygon points="440.20,503.30 432.70,504.90 432.70,501.70" fill="#111"/>
<polygon points="460.40,503.30 467.90,501.70 467.90,504.90" fill="#111"/>
<text x="471.60" y="502.10" font-size="9.9" font-weight="bold" textLength="34.90" lengthAdjust="spacingAndGlyphs">G3/8&quot;</text>
<line x1="432.80" y1="596.00" x2="509.60" y2="596.00" stroke="#1c1c1c" stroke-width="1.25" />
<polygon points="440.20,596.00 432.70,597.60 432.70,594.40" fill="#111"/>
<polygon points="460.40,596.00 467.90,594.40 467.90,597.60" fill="#111"/>
<text x="472.60" y="594.30" font-size="9.9" font-weight="bold" textLength="35.90" lengthAdjust="spacingAndGlyphs">G3/8&quot;</text>
<line x1="693.77" y1="286.30" x2="685.30" y2="294.77" stroke="#1c1c1c" stroke-width="1.25" />
<line x1="704.10" y1="286.30" x2="685.30" y2="305.10" stroke="#1c1c1c" stroke-width="1.25" />
<line x1="714.43" y1="286.30" x2="685.30" y2="315.43" stroke="#1c1c1c" stroke-width="1.25" />
<line x1="724.76" y1="286.30" x2="685.30" y2="325.76" stroke="#1c1c1c" stroke-width="1.25" />
<line x1="686.79" y1="334.60" x2="733.00" y2="288.39" stroke="#1c1c1c" stroke-width="1.25" />
<line x1="697.12" y1="334.60" x2="733.00" y2="298.72" stroke="#1c1c1c" stroke-width="1.25" />
<line x1="707.45" y1="334.60" x2="733.00" y2="309.05" stroke="#1c1c1c" stroke-width="1.25" />
<line x1="717.78" y1="334.60" x2="733.00" y2="319.38" stroke="#1c1c1c" stroke-width="1.25" />
<line x1="728.11" y1="334.60" x2="733.00" y2="329.71" stroke="#1c1c1c" stroke-width="1.25" />
<line x1="766.08" y1="286.30" x2="764.50" y2="287.88" stroke="#1c1c1c" stroke-width="1.25" />
<line x1="776.41" y1="286.30" x2="764.50" y2="298.21" stroke="#1c1c1c" stroke-width="1.25" />
<line x1="786.74" y1="286.30" x2="764.50" y2="308.54" stroke="#1c1c1c" stroke-width="1.25" />
<line x1="797.07" y1="286.30" x2="764.50" y2="318.87" stroke="#1c1c1c" stroke-width="1.25" />
<line x1="807.40" y1="286.30" x2="764.50" y2="329.20" stroke="#1c1c1c" stroke-width="1.25" />
<line x1="769.43" y1="334.60" x2="812.40" y2="291.63" stroke="#1c1c1c" stroke-width="1.25" />
<line x1="779.76" y1="334.60" x2="812.40" y2="301.96" stroke="#1c1c1c" stroke-width="1.25" />
<line x1="790.09" y1="334.60" x2="812.40" y2="312.29" stroke="#1c1c1c" stroke-width="1.25" />
<line x1="800.42" y1="334.60" x2="812.40" y2="322.62" stroke="#1c1c1c" stroke-width="1.25" />
<line x1="810.75" y1="334.60" x2="812.40" y2="332.95" stroke="#1c1c1c" stroke-width="1.25" />
<line x1="685.30" y1="286.30" x2="685.30" y2="334.60" stroke="#111" stroke-width="1.2" />
<line x1="812.40" y1="286.30" x2="812.40" y2="334.60" stroke="#111" stroke-width="1.2" />
<line x1="685.30" y1="334.60" x2="733.00" y2="334.60" stroke="#111" stroke-width="1.2" />
<line x1="764.50" y1="334.60" x2="1009.00" y2="334.60" stroke="#111" stroke-width="1.1" />
<line x1="685.30" y1="286.30" x2="718.40" y2="286.30" stroke="#111" stroke-width="1.2" />
<line x1="779.80" y1="286.30" x2="1008.60" y2="286.30" stroke="#111" stroke-width="1.1" />
<line x1="733.00" y1="286.30" x2="733.00" y2="334.60" stroke="#111" stroke-width="1.6" />
<line x1="764.50" y1="286.30" x2="764.50" y2="334.60" stroke="#111" stroke-width="1.6" />
<rect x="723.30" y="207.50" width="51.50" height="18.80" rx="0" fill="#fff" stroke="#111" stroke-width="1.2"/>
<rect x="723.3" y="226.3" width="51.5" height="55" fill="#121212"/>
<line x1="724.10" y1="231.50" x2="774.00" y2="231.50" stroke="#484848" stroke-width="0.7" />
<line x1="724.10" y1="239.30" x2="774.00" y2="239.30" stroke="#9a9a9a" stroke-width="0.7" />
<line x1="724.10" y1="244.70" x2="774.00" y2="244.70" stroke="#3a3a3a" stroke-width="0.7" />
<line x1="724.10" y1="249.60" x2="774.00" y2="249.60" stroke="#303030" stroke-width="0.7" />
<line x1="724.10" y1="258.50" x2="774.00" y2="258.50" stroke="#2c2c2c" stroke-width="0.7" />
<line x1="724.10" y1="266.30" x2="774.00" y2="266.30" stroke="#909090" stroke-width="0.7" />
<line x1="724.10" y1="270.30" x2="774.00" y2="270.30" stroke="#484848" stroke-width="0.7" />
<line x1="724.10" y1="275.20" x2="774.00" y2="275.20" stroke="#3c3c3c" stroke-width="0.7" />
<rect x="718.40" y="281.20" width="61.40" height="4.90" rx="0" fill="#fff" stroke="#111" stroke-width="1.1"/>
<circle cx="748.7" cy="217.2" r="4.3" fill="#fff" stroke="#111" stroke-width="1.3"/>
<path d="M736.6,207.5 L736.6,103 A58,59 0 0 1 794.6,44 L887.4,43.2 A56,56 0 0 1 929.7,62.5 L946.4,81.6 L928.3,98 L913.6,81.1 A40,40 0 0 0 883.4,67.3 L794.6,69.3 A34,34 0 0 0 760.8,103 L760.8,207.5" fill="none" stroke="#111" stroke-width="1.2" />
<line x1="718.80" y1="19.20" x2="946.80" y2="19.20" stroke="#1c1c1c" stroke-width="1.25" />
<polygon points="718.80,19.20 726.80,17.60 726.80,20.80" fill="#111"/>
<polygon points="946.80,19.20 938.80,20.80 938.80,17.60" fill="#111"/>
<line x1="718.80" y1="15.40" x2="718.80" y2="28.70" stroke="#1c1c1c" stroke-width="1.25" />
<line x1="718.80" y1="57.40" x2="718.80" y2="273.30" stroke="#1c1c1c" stroke-width="1.25" />
<line x1="946.80" y1="15.40" x2="946.80" y2="81.20" stroke="#1c1c1c" stroke-width="1.25" />
<text x="822.30" y="17.90" font-size="10.3" font-weight="bold" textLength="18.50" lengthAdjust="spacingAndGlyphs">189</text>
<line x1="665.00" y1="43.70" x2="860.00" y2="43.70" stroke="#1c1c1c" stroke-width="1.25" />
<line x1="668.90" y1="43.70" x2="668.90" y2="286.30" stroke="#1c1c1c" stroke-width="1.25" />
<polygon points="668.90,43.70 670.50,51.70 667.30,51.70" fill="#111"/>
<polygon points="668.90,286.30 667.30,278.30 670.50,278.30" fill="#111"/>
<line x1="665.00" y1="286.30" x2="682.70" y2="286.30" stroke="#1c1c1c" stroke-width="1.25" />
<text transform="translate(667.50,175.00) rotate(-90)" x="0" y="0" font-size="10.3" font-weight="bold" textLength="18.60" lengthAdjust="spacingAndGlyphs">201</text>
<line x1="749.10" y1="158.40" x2="937.30" y2="158.40" stroke="#1c1c1c" stroke-width="1.25" />
<line x1="749.10" y1="154.50" x2="749.10" y2="192.70" stroke="#1c1c1c" stroke-width="1.25" />
<polygon points="749.10,158.40 757.10,156.80 757.10,160.00" fill="#111"/>
<polygon points="937.30,158.40 929.30,160.00 929.30,156.80" fill="#111"/>
<text x="832.90" y="156.80" font-size="10.3" font-weight="bold" textLength="18.80" lengthAdjust="spacingAndGlyphs">156</text>
<line x1="937.30" y1="90.40" x2="937.30" y2="162.10" stroke="#1c1c1c" stroke-width="1.25" />
<line x1="937.30" y1="90.40" x2="1009.20" y2="90.40" stroke="#1c1c1c" stroke-width="1.25" />
<line x1="937.30" y1="90.40" x2="984.00" y2="144.30" stroke="#1c1c1c" stroke-width="1.25" />
<path d="M937.30,158.20 A67.8,67.8 0 0 0 949.07,157.17" fill="none" stroke="#1c1c1c" stroke-width="1.0" />
<path d="M972.22,148.52 A67.8,67.8 0 0 0 981.78,141.57" fill="none" stroke="#1c1c1c" stroke-width="1.0" />
<polygon points="937.30,158.20 944.84,156.83 944.75,160.02" fill="#111"/>
<polygon points="981.78,141.57 977.17,147.70 975.07,145.28" fill="#111"/>
<text x="952.70" y="157.70" font-size="10.3" font-weight="bold" textLength="14.90" lengthAdjust="spacingAndGlyphs">41°</text>
<line x1="1005.00" y1="90.40" x2="1005.00" y2="390.50" stroke="#1c1c1c" stroke-width="1.25" />
<polygon points="1005.00,90.40 1006.60,98.40 1003.40,98.40" fill="#111"/>
<polygon points="1005.00,286.30 1003.40,278.30 1006.60,278.30" fill="#111"/>
<polygon points="1005.00,334.60 1006.60,342.60 1003.40,342.60" fill="#111"/>
<text transform="translate(1003.40,198.00) rotate(-90)" x="0" y="0" font-size="10.3" font-weight="bold" textLength="18.00" lengthAdjust="spacingAndGlyphs">162</text>
<text transform="translate(1003.50,391.30) rotate(-90)" x="0" y="0" font-size="11.6" font-weight="bold" textLength="50.70" lengthAdjust="spacingAndGlyphs">40 MAX</text>
<rect x="719.30" y="334.60" width="58.60" height="2.90" rx="0" fill="#fff" stroke="#111" stroke-width="1.0"/>
<line x1="721.00" y1="338.50" x2="776.30" y2="338.50" stroke="#111" stroke-width="1.3" />
<rect x="727.20" y="339.20" width="43.20" height="8.20" rx="3" fill="#fff" stroke="#111" stroke-width="1.4"/>
<rect x="728.20" y="340.20" width="9.20" height="6.20" rx="2.8" fill="#fff" stroke="#111" stroke-width="1.3"/>
<rect x="739.00" y="340.20" width="19.40" height="6.20" rx="2.8" fill="#fff" stroke="#111" stroke-width="1.3"/>
<rect x="760.00" y="340.20" width="9.60" height="6.20" rx="2.8" fill="#fff" stroke="#111" stroke-width="1.3"/>
<path d="M732.5,349.6 L739.2,349.6 L739.2,361 L738.4,361 L738.4,366.3 L733.8,366.3 L733.8,361 L732.5,361 Z" fill="#fff" stroke="#111" stroke-width="1.2" />
<line x1="733.80" y1="361.00" x2="738.40" y2="361.00" stroke="#111" stroke-width="1.25" />
<rect x="739.90" y="347.80" width="9.50" height="32.40" rx="0" fill="#fff" stroke="#111" stroke-width="1.2"/>
<rect x="753.40" y="349.60" width="11.10" height="17.90" rx="0" fill="#fff" stroke="#111" stroke-width="1.3"/>
<rect x="755.70" y="352.50" width="4.90" height="10.30" rx="0" fill="none" stroke="#111" stroke-width="1.0"/>
<line x1="751.00" y1="347.80" x2="751.00" y2="368.00" stroke="#111" stroke-width="1.2" />
<line x1="753.20" y1="368.30" x2="753.20" y2="438.00" stroke="#111" stroke-width="2.0" />
<line x1="764.00" y1="368.30" x2="764.00" y2="438.00" stroke="#111" stroke-width="2.0" />
<path d="M763.96,368.30 L764.00,368.40 M753.24,368.30 L753.20,368.40 M758.56,368.30 L764.00,383.40 M758.64,368.30 L753.20,383.40 M753.20,368.40 L764.00,398.40 M764.00,368.40 L753.20,398.40 M753.20,383.40 L764.00,413.40 M764.00,383.40 L753.20,413.40 M753.20,398.40 L764.00,428.40 M764.00,398.40 L753.20,428.40 M753.20,413.40 L762.06,438.00 M764.00,413.40 L755.14,438.00 M753.20,428.40 L756.66,438.00 M764.00,428.40 L760.54,438.00 " fill="none" stroke="#111" stroke-width="1.3" />
<line x1="753.20" y1="438.00" x2="764.00" y2="438.00" stroke="#111" stroke-width="1.2" />
<line x1="753.20" y1="441.00" x2="764.00" y2="441.00" stroke="#111" stroke-width="1.2" />
<line x1="753.20" y1="441.00" x2="753.20" y2="453.60" stroke="#111" stroke-width="2.0" />
<line x1="764.00" y1="441.00" x2="764.00" y2="453.60" stroke="#111" stroke-width="2.0" />
<path d="M763.14,441.00 L764.00,443.40 M754.06,441.00 L753.20,443.40 M757.74,441.00 L762.27,453.60 M759.46,441.00 L754.93,453.60 M753.20,443.40 L756.87,453.60 M764.00,443.40 L760.33,453.60 " fill="none" stroke="#111" stroke-width="1.3" />
<line x1="753.20" y1="453.80" x2="764.00" y2="453.80" stroke="#111" stroke-width="1.2" />
<rect x="753.40" y="455.00" width="10.30" height="17.00" rx="0" fill="#fff" stroke="#111" stroke-width="1.3"/>
<rect x="755.70" y="461.00" width="4.80" height="9.50" rx="0" fill="none" stroke="#111" stroke-width="1.0"/>
<rect x="745.40" y="472.00" width="26.60" height="11.20" rx="2" fill="#fff" stroke="#111" stroke-width="1.3"/>
<line x1="751.60" y1="472.00" x2="751.60" y2="483.20" stroke="#111" stroke-width="1.1" />
<line x1="764.40" y1="472.00" x2="764.40" y2="483.20" stroke="#111" stroke-width="1.1" />
<line x1="737.50" y1="369.00" x2="737.50" y2="404.00" stroke="#111" stroke-width="1.3" />
<line x1="751.00" y1="369.00" x2="751.00" y2="404.00" stroke="#111" stroke-width="1.3" />
<rect x="738.50" y="380.20" width="11.50" height="9.50" rx="0" fill="#fff" stroke="#111" stroke-width="1.1"/>
<line x1="741.50" y1="380.20" x2="741.50" y2="389.70" stroke="#111" stroke-width="0.9" />
<line x1="744.30" y1="380.20" x2="744.30" y2="389.70" stroke="#111" stroke-width="0.9" />
<line x1="747.20" y1="380.20" x2="747.20" y2="389.70" stroke="#111" stroke-width="0.9" />
<rect x="737.80" y="389.70" width="12.90" height="2.30" rx="0" fill="#fff" stroke="#111" stroke-width="1.0"/>
<rect x="738.50" y="392.00" width="11.50" height="12.00" rx="0" fill="#fff" stroke="#111" stroke-width="1.1"/>
<line x1="741.50" y1="392.00" x2="741.50" y2="404.00" stroke="#111" stroke-width="0.9" />
<line x1="744.30" y1="392.00" x2="744.30" y2="404.00" stroke="#111" stroke-width="0.9" />
<line x1="747.20" y1="392.00" x2="747.20" y2="404.00" stroke="#111" stroke-width="0.9" />
<rect x="736.70" y="404.00" width="14.30" height="6.30" rx="0.8" fill="#fff" stroke="#111" stroke-width="1.3"/>
<line x1="737.50" y1="410.30" x2="737.50" y2="438.00" stroke="#111" stroke-width="2.0" />
<line x1="750.70" y1="410.30" x2="750.70" y2="438.00" stroke="#111" stroke-width="2.0" />
<path d="M747.71,410.30 L748.11,410.80 L748.47,411.30 L748.78,411.80 L749.04,412.30 L749.24,412.80 L749.39,413.30 L749.48,413.80 L749.51,414.30 L749.49,414.80 L749.40,415.30 L749.26,415.80 L749.06,416.30 L748.81,416.80 L748.50,417.30 L748.15,417.80 L747.75,418.30 L747.32,418.80 L746.85,419.30 L746.35,419.80 L745.82,420.30 L745.28,420.80 L744.72,421.30 L744.16,421.80 L743.59,422.30 L743.03,422.80 L742.49,423.30 L741.96,423.80 L741.45,424.30 L740.97,424.80 L740.53,425.30 L740.13,425.80 L739.77,426.30 L739.45,426.80 L739.19,427.30 L738.98,427.80 L738.82,428.30 L738.73,428.80 L738.69,429.30 L738.71,429.80 L738.79,430.30 L738.93,430.80 L739.12,431.30 L739.37,431.80 L739.67,432.30 L740.01,432.80 L740.41,433.30 L740.84,433.80 L741.30,434.30 L741.80,434.80 L742.33,435.30 L742.87,435.80 L743.42,436.30 L743.99,436.80 L744.55,437.30 L745.11,437.80 L745.33,438.00 " fill="none" stroke="#111" stroke-width="1.45" stroke-linejoin="round"/>
<path d="M740.49,410.30 L740.09,410.80 L739.73,411.30 L739.42,411.80 L739.16,412.30 L738.96,412.80 L738.81,413.30 L738.72,413.80 L738.69,414.30 L738.71,414.80 L738.80,415.30 L738.94,415.80 L739.14,416.30 L739.39,416.80 L739.70,417.30 L740.05,417.80 L740.45,418.30 L740.88,418.80 L741.35,419.30 L741.85,419.80 L742.38,420.30 L742.92,420.80 L743.48,421.30 L744.04,421.80 L744.61,422.30 L745.17,422.80 L745.71,423.30 L746.24,423.80 L746.75,424.30 L747.23,424.80 L747.67,425.30 L748.07,425.80 L748.43,426.30 L748.75,426.80 L749.01,427.30 L749.22,427.80 L749.38,428.30 L749.47,428.80 L749.51,429.30 L749.49,429.80 L749.41,430.30 L749.27,430.80 L749.08,431.30 L748.83,431.80 L748.53,432.30 L748.19,432.80 L747.79,433.30 L747.36,433.80 L746.90,434.30 L746.40,434.80 L745.87,435.30 L745.33,435.80 L744.78,436.30 L744.21,436.80 L743.65,437.30 L743.09,437.80 L742.87,438.00 " fill="none" stroke="#111" stroke-width="1.45" stroke-linejoin="round"/>
<line x1="737.50" y1="438.00" x2="750.70" y2="438.00" stroke="#111" stroke-width="1.2" />
<line x1="737.50" y1="441.00" x2="750.70" y2="441.00" stroke="#111" stroke-width="1.2" />
<line x1="737.50" y1="441.00" x2="737.50" y2="542.30" stroke="#111" stroke-width="2.0" />
<line x1="750.70" y1="441.00" x2="750.70" y2="542.30" stroke="#111" stroke-width="2.0" />
<path d="M748.19,441.00 L748.53,441.50 L748.83,442.00 L749.08,442.50 L749.27,443.00 L749.41,443.50 L749.49,444.00 L749.51,444.50 L749.47,445.00 L749.38,445.50 L749.22,446.00 L749.01,446.50 L748.75,447.00 L748.43,447.50 L748.07,448.00 L747.67,448.50 L747.23,449.00 L746.75,449.50 L746.24,450.00 L745.71,450.50 L745.17,451.00 L744.61,451.50 L744.04,452.00 L743.48,452.50 L742.92,453.00 L742.38,453.50 L741.85,454.00 L741.35,454.50 L740.88,455.00 L740.45,455.50 L740.05,456.00 L739.70,456.50 L739.39,457.00 L739.14,457.50 L738.94,458.00 L738.80,458.50 L738.71,459.00 L738.69,459.50 L738.72,460.00 L738.81,460.50 L738.96,461.00 L739.16,461.50 L739.42,462.00 L739.73,462.50 L740.09,463.00 L740.49,463.50 L740.93,464.00 L741.40,464.50 L741.91,465.00 L742.43,465.50 L742.98,466.00 L743.54,466.50 L744.10,467.00 L744.66,467.50 L745.22,468.00 L745.77,468.50 L746.29,469.00 L746.80,469.50 L747.27,470.00 L747.71,470.50 L748.11,471.00 L748.47,471.50 L748.78,472.00 L749.04,472.50 L749.24,473.00 L749.39,473.50 L749.48,474.00 L749.51,474.50 L749.49,475.00 L749.40,475.50 L749.26,476.00 L749.06,476.50 L748.81,477.00 L748.50,477.50 L748.15,478.00 L747.75,478.50 L747.32,479.00 L746.85,479.50 L746.35,480.00 L745.82,480.50 L745.28,481.00 L744.72,481.50 L744.16,482.00 L743.59,482.50 L743.03,483.00 L742.49,483.50 L741.96,484.00 L741.45,484.50 L740.97,485.00 L740.53,485.50 L740.13,486.00 L739.77,486.50 L739.45,487.00 L739.19,487.50 L738.98,488.00 L738.82,488.50 L738.73,489.00 L738.69,489.50 L738.71,490.00 L738.79,490.50 L738.93,491.00 L739.12,491.50 L739.37,492.00 L739.67,492.50 L740.01,493.00 L740.41,493.50 L740.84,494.00 L741.30,494.50 L741.80,495.00 L742.33,495.50 L742.87,496.00 L743.42,496.50 L743.99,497.00 L744.55,497.50 L745.11,498.00 L745.66,498.50 L746.19,499.00 L746.70,499.50 L747.18,500.00 L747.63,500.50 L748.04,501.00 L748.40,501.50 L748.72,502.00 L748.99,502.50 L749.20,503.00 L749.36,503.50 L749.47,504.00 L749.51,504.50 L749.50,505.00 L749.42,505.50 L749.29,506.00 L749.10,506.50 L748.86,507.00 L748.57,507.50 L748.22,508.00 L747.84,508.50 L747.41,509.00 L746.94,509.50 L746.45,510.00 L745.93,510.50 L745.39,511.00 L744.83,511.50 L744.27,512.00 L743.70,512.50 L743.14,513.00 L742.59,513.50 L742.06,514.00 L741.55,514.50 L741.07,515.00 L740.62,515.50 L740.20,516.00 L739.83,516.50 L739.51,517.00 L739.24,517.50 L739.02,518.00 L738.85,518.50 L738.74,519.00 L738.69,519.50 L738.70,520.00 L738.77,520.50 L738.89,521.00 L739.08,521.50 L739.31,522.00 L739.60,522.50 L739.94,523.00 L740.32,523.50 L740.75,524.00 L741.21,524.50 L741.70,525.00 L742.22,525.50 L742.76,526.00 L743.31,526.50 L743.87,527.00 L744.44,527.50 L745.00,528.00 L745.55,528.50 L746.09,529.00 L746.60,529.50 L747.09,530.00 L747.54,530.50 L747.96,531.00 L748.33,531.50 L748.66,532.00 L748.94,532.50 L749.16,533.00 L749.34,533.50 L749.45,534.00 L749.51,534.50 L749.50,535.00 L749.44,535.50 L749.32,536.00 L749.14,536.50 L748.91,537.00 L748.63,537.50 L748.30,538.00 L747.92,538.50 L747.50,539.00 L747.04,539.50 L746.55,540.00 L746.03,540.50 L745.50,541.00 L744.94,541.50 L744.38,542.00 L744.04,542.30 " fill="none" stroke="#111" stroke-width="1.45" stroke-linejoin="round"/>
<path d="M740.01,441.00 L739.67,441.50 L739.37,442.00 L739.12,442.50 L738.93,443.00 L738.79,443.50 L738.71,444.00 L738.69,444.50 L738.73,445.00 L738.82,445.50 L738.98,446.00 L739.19,446.50 L739.45,447.00 L739.77,447.50 L740.13,448.00 L740.53,448.50 L740.97,449.00 L741.45,449.50 L741.96,450.00 L742.49,450.50 L743.03,451.00 L743.59,451.50 L744.16,452.00 L744.72,452.50 L745.28,453.00 L745.82,453.50 L746.35,454.00 L746.85,454.50 L747.32,455.00 L747.75,455.50 L748.15,456.00 L748.50,456.50 L748.81,457.00 L749.06,457.50 L749.26,458.00 L749.40,458.50 L749.49,459.00 L749.51,459.50 L749.48,460.00 L749.39,460.50 L749.24,461.00 L749.04,461.50 L748.78,462.00 L748.47,462.50 L748.11,463.00 L747.71,463.50 L747.27,464.00 L746.80,464.50 L746.29,465.00 L745.77,465.50 L745.22,466.00 L744.66,466.50 L744.10,467.00 L743.54,467.50 L742.98,468.00 L742.43,468.50 L741.91,469.00 L741.40,469.50 L740.93,470.00 L740.49,470.50 L740.09,471.00 L739.73,471.50 L739.42,472.00 L739.16,472.50 L738.96,473.00 L738.81,473.50 L738.72,474.00 L738.69,474.50 L738.71,475.00 L738.80,475.50 L738.94,476.00 L739.14,476.50 L739.39,477.00 L739.70,477.50 L740.05,478.00 L740.45,478.50 L740.88,479.00 L741.35,479.50 L741.85,480.00 L742.38,480.50 L742.92,481.00 L743.48,481.50 L744.04,482.00 L744.61,482.50 L745.17,483.00 L745.71,483.50 L746.24,484.00 L746.75,484.50 L747.23,485.00 L747.67,485.50 L748.07,486.00 L748.43,486.50 L748.75,487.00 L749.01,487.50 L749.22,488.00 L749.38,488.50 L749.47,489.00 L749.51,489.50 L749.49,490.00 L749.41,490.50 L749.27,491.00 L749.08,491.50 L748.83,492.00 L748.53,492.50 L748.19,493.00 L747.79,493.50 L747.36,494.00 L746.90,494.50 L746.40,495.00 L745.87,495.50 L745.33,496.00 L744.78,496.50 L744.21,497.00 L743.65,497.50 L743.09,498.00 L742.54,498.50 L742.01,499.00 L741.50,499.50 L741.02,500.00 L740.57,500.50 L740.16,501.00 L739.80,501.50 L739.48,502.00 L739.21,502.50 L739.00,503.00 L738.84,503.50 L738.73,504.00 L738.69,504.50 L738.70,505.00 L738.78,505.50 L738.91,506.00 L739.10,506.50 L739.34,507.00 L739.63,507.50 L739.98,508.00 L740.36,508.50 L740.79,509.00 L741.26,509.50 L741.75,510.00 L742.27,510.50 L742.81,511.00 L743.37,511.50 L743.93,512.00 L744.50,512.50 L745.06,513.00 L745.61,513.50 L746.14,514.00 L746.65,514.50 L747.13,515.00 L747.58,515.50 L748.00,516.00 L748.37,516.50 L748.69,517.00 L748.96,517.50 L749.18,518.00 L749.35,518.50 L749.46,519.00 L749.51,519.50 L749.50,520.00 L749.43,520.50 L749.31,521.00 L749.12,521.50 L748.89,522.00 L748.60,522.50 L748.26,523.00 L747.88,523.50 L747.45,524.00 L746.99,524.50 L746.50,525.00 L745.98,525.50 L745.44,526.00 L744.89,526.50 L744.33,527.00 L743.76,527.50 L743.20,528.00 L742.65,528.50 L742.11,529.00 L741.60,529.50 L741.11,530.00 L740.66,530.50 L740.24,531.00 L739.87,531.50 L739.54,532.00 L739.26,532.50 L739.04,533.00 L738.86,533.50 L738.75,534.00 L738.69,534.50 L738.70,535.00 L738.76,535.50 L738.88,536.00 L739.06,536.50 L739.29,537.00 L739.57,537.50 L739.90,538.00 L740.28,538.50 L740.70,539.00 L741.16,539.50 L741.65,540.00 L742.17,540.50 L742.70,541.00 L743.26,541.50 L743.82,542.00 L744.16,542.30 " fill="none" stroke="#111" stroke-width="1.45" stroke-linejoin="round"/>
<rect x="736.40" y="543.10" width="15.10" height="6.30" rx="0.8" fill="#fff" stroke="#111" stroke-width="1.3"/>
<line x1="737.70" y1="549.40" x2="737.70" y2="561.30" stroke="#111" stroke-width="1.3" />
<line x1="750.20" y1="549.40" x2="750.20" y2="561.30" stroke="#111" stroke-width="1.3" />
<line x1="740.70" y1="549.40" x2="740.70" y2="561.30" stroke="#111" stroke-width="1.25" />
<line x1="745.40" y1="549.40" x2="745.40" y2="561.30" stroke="#111" stroke-width="1.25" />
<line x1="747.80" y1="549.40" x2="747.80" y2="561.30" stroke="#111" stroke-width="1.25" />
<rect x="736.40" y="561.30" width="15.10" height="3.20" rx="0.8" fill="#fff" stroke="#111" stroke-width="1.2"/>
<rect x="730.70" y="565.20" width="26.60" height="15.10" rx="2" fill="#fff" stroke="#111" stroke-width="1.3"/>
<line x1="737.20" y1="565.20" x2="737.20" y2="580.30" stroke="#111" stroke-width="1.1" />
<line x1="751.00" y1="565.20" x2="751.00" y2="580.30" stroke="#111" stroke-width="1.1" />
<rect x="745.40" y="472.00" width="26.60" height="11.20" rx="2" fill="#fff" stroke="#111" stroke-width="1.3"/>
<line x1="751.60" y1="472.00" x2="751.60" y2="483.20" stroke="#111" stroke-width="1.1" />
<line x1="764.40" y1="472.00" x2="764.40" y2="483.20" stroke="#111" stroke-width="1.1" />
<line x1="314.80" y1="622.00" x2="1024.00" y2="622.00" stroke="#666" stroke-width="1.4" />
<line x1="314.80" y1="622.00" x2="314.80" y2="631.00" stroke="#666" stroke-width="1.4" />
<line x1="636.80" y1="622.00" x2="636.80" y2="631.00" stroke="#666" stroke-width="1.4" />
<path d="M658,631 L658,629.6 L1017.4,629.6 L1017.4,631" fill="none" stroke="#222" stroke-width="1.0" />
<rect x="415.5" y="628.9" width="14.0" height="2.5" fill="#000"/>
<rect x="431" y="628.9" width="16.5" height="2.5" fill="#000"/>
<rect x="452" y="628.9" width="10" height="2.5" fill="#000"/>
<rect x="466" y="628.9" width="10" height="2.5" fill="#000"/>
<rect x="478.5" y="628.9" width="6.0" height="2.5" fill="#000"/>
<rect x="486" y="628.9" width="51" height="2.5" fill="#000"/>
</svg>
</body></html>
